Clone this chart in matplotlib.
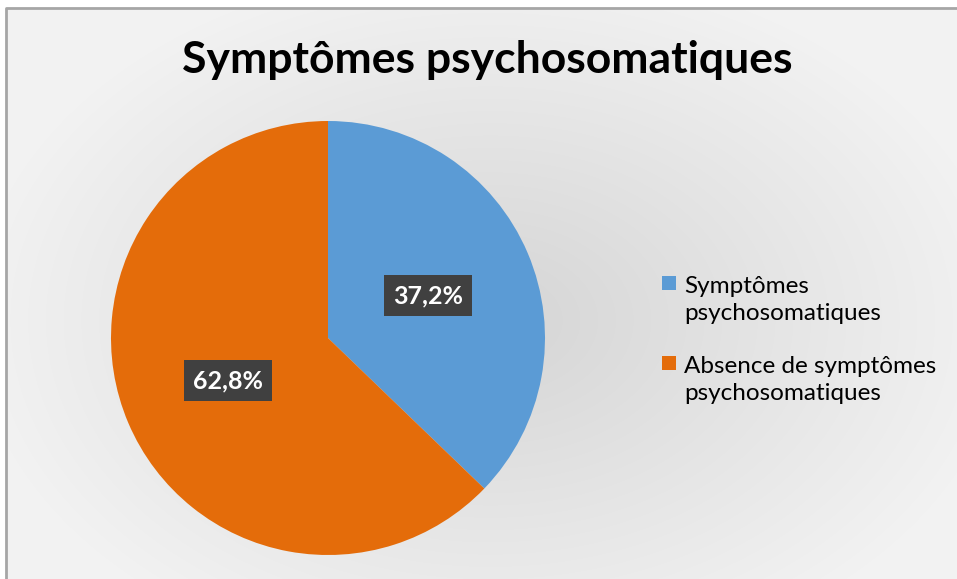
import numpy as np
import matplotlib.pyplot as plt
from matplotlib.patches import Rectangle

# Répartition des répondants
categories = ["Symptômes\npsychosomatiques", "Absence de symptômes\npsychosomatiques"]
values = [37.2, 62.8]
colors = ["#5B9BD5", "#E46C0A"]
title = "Symptômes psychosomatiques"

W, H, DPI = 957, 579, 100
fig = plt.figure(figsize=(W / DPI, H / DPI), dpi=DPI)
fig.patch.set_facecolor("white")

# fond en dégradé radial (zone de graphique)
bg = fig.add_axes([0, 0, 1, 1])
bg.set_xlim(0, W)
bg.set_ylim(H, 0)
bg.axis("off")
yy, xx = np.mgrid[0:H, 0:W]
r = np.sqrt(((xx - 490) / 520) ** 2 + ((yy - 320) / 360) ** 2)
r = np.clip(r, 0, 1)
shade = 0.835 + (0.95 - 0.835) * r
img = np.dstack([shade, shade, shade])
img[:8, :] = 1.0
img[:, :6] = 1.0
bg.imshow(img, extent=[0, W, H, 0], interpolation="bilinear", aspect="auto")
bg.plot([6, 6, W + 5], [H + 5, 8, 8], color="#a6a6a6", lw=2, solid_capstyle="butt")

# camembert
cx, cy, rad = 328, 338, 217
ax = fig.add_axes([(cx - rad) / W, (H - cy - rad) / H, 2 * rad / W, 2 * rad / H])
wedges, texts, autotexts = ax.pie(
    values, colors=colors, startangle=90, counterclock=False,
    autopct=lambda p: f"{p:.1f}%".replace(".", ","), pctdistance=0.5,
    wedgeprops=dict(linewidth=0),
    textprops=dict(color="white", fontsize=18, fontweight="bold", family="Lato"),
)
for t in autotexts:
    t.set_bbox(dict(boxstyle="square,pad=0.36", facecolor="#404040", edgecolor="none"))
ax.set_xlim(-1, 1)
ax.set_ylim(-1, 1)
ax.set_aspect("equal")

fig.text(487 / W, 1 - 60 / H, title, ha="center", va="center",
         fontsize=32, fontweight="bold", family="Lato", color="black")

# légende
leg_y = [300, 380]
for lab, col, y in zip(categories, colors, leg_y):
    sq = y - 17
    fig.patches.append(Rectangle((662 / W, 1 - (sq + 7) / H), 14 / W, 14 / H,
                                 transform=fig.transFigure, facecolor=col, edgecolor="none"))
    fig.text(684 / W, 1 - y / H, lab, ha="left", va="center", fontsize=17.5,
             family="Lato", color="black", linespacing=1.3)

fig.savefig("out.png", dpi=DPI)
